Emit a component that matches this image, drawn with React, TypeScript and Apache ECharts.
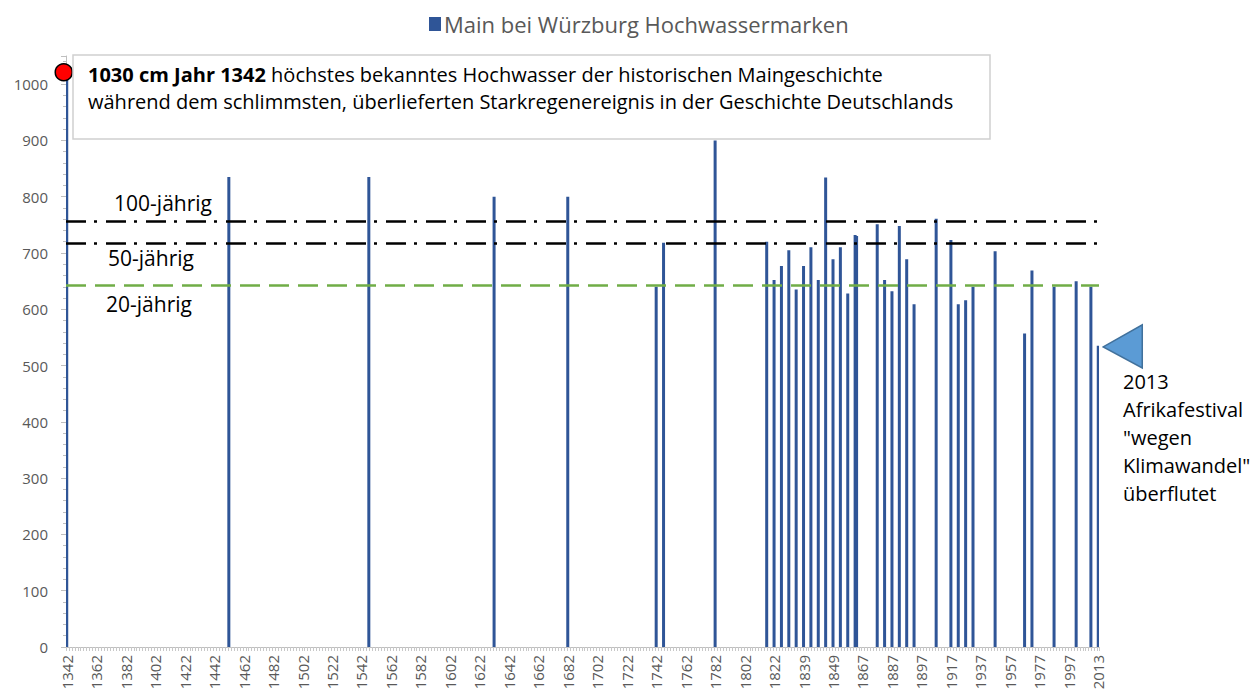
import React, { useEffect, useRef } from 'react';
import * as echarts from 'echarts';

const tickLabels = ['1342','1362','1382','1402','1422','1442','1462','1482','1502','1522','1542','1562','1582','1602','1622','1642','1662','1682','1702','1722','1742','1762','1782','1802','1822','1839','1849','1867','1887','1897','1917','1937','1957','1977','1997','2013'];
const slotsPerLabel = 20;

// position of each flood mark on the category axis (slot index) and its level in cm
const floodSlot = [0,110,205,290,340,400,405,440,475,480,485,490,495,500,505,510,515,520,525,530,535,536,550,555,560,565,570,575,590,600,605,610,615,630,650,655,670,685,695,700];
const floodLevel = [1030,835,835,800,800,640,718,900,720,652,677,705,635,677,710,652,834,689,710,628,732,730,751,652,632,748,689,609,761,723,609,616,640,703,557,669,640,650,640,535];

const returnLabels = ['100-jährig', '50-jährig', '20-jährig'];
const returnLevels = [757, 718, 643];

const seriesName = 'Main bei Würzburg Hochwassermarken';
const noteBold = '1030 cm Jahr 1342';
const noteRest = ' höchstes bekanntes Hochwasser der historischen Maingeschichte';
const noteLine2 = 'während dem schlimmsten, überlieferten Starkregenereignis in der Geschichte Deutschlands';
const sideNote = ['2013', 'Afrikafestival', '"wegen', 'Klimawandel"', 'überflutet'];

const FONT = 'Open Sans';
const BAR = '#2f5597';

export default function App() {
  const ref = useRef<HTMLDivElement>(null);
  useEffect(() => {
    document.body.style.margin = '0';
    const chart = echarts.init(ref.current!, null, { renderer: 'svg' });
    const nSlots = (tickLabels.length - 1) * slotsPerLabel + 1;
    const categories = Array.from({ length: nSlots }, (_, i) =>
      i % slotsPerLabel === 0 ? tickLabels[i / slotsPerLabel] : (i < 480 ? String(1342 + i) : '')
    );
    chart.setOption({
      animation: false,
      legend: {
        top: 8, left: 424, icon: 'rect', itemWidth: 12, itemHeight: 14, itemGap: 5,
        textStyle: { fontSize: 22, color: '#595959', fontFamily: FONT, padding: [0, 0, 0, -2] },
        data: [seriesName],
      },
      grid: { left: 66, right: 160, top: 56, bottom: 50 },
      xAxis: {
        type: 'category', data: categories, boundaryGap: true,
        axisLine: { lineStyle: { color: '#bfbfbf', width: 1 } },
        axisTick: { show: true, interval: 1, length: 4, lineStyle: { color: '#c8c8c8' } },
        axisLabel: { interval: slotsPerLabel - 1, rotate: 90, fontSize: 15, color: '#595959', fontFamily: FONT, margin: 8 },
      },
      yAxis: {
        type: 'value', min: 0, max: 1050, interval: 100,
        axisLine: { show: true, lineStyle: { color: '#bfbfbf' } },
        axisTick: { show: true, length: 5, lineStyle: { color: '#bfbfbf' } },
        minorTick: { show: true, splitNumber: 5, length: 3, lineStyle: { color: '#bfbfbf' } },
        splitLine: { show: false },
        axisLabel: {
          showMaxLabel: false, fontSize: 15, color: '#595959', fontFamily: FONT, margin: 18,
          formatter: (v: number) => String(v),
        },
      },
      series: [{
        type: 'bar', name: seriesName, barWidth: 3,
        itemStyle: { color: BAR },
        data: floodSlot.map((s, i) => [s, floodLevel[i]]),
        markLine: {
          symbol: 'none', silent: true, label: { show: false },
          data: returnLevels.map((v, i) => ({
            yAxis: v,
            lineStyle: i < 2
              ? { color: '#000', width: 2.5, type: [20, 8, 3, 9] }
              : { color: '#70ad47', width: 2.5, type: [20, 9] },
          })),
        },
        markPoint: {
          silent: true,
          data: [{
            coord: [floodSlot[0], floodLevel[0]], symbol: 'circle', symbolSize: 17, symbolOffset: [-3, 5],
            itemStyle: { color: '#ff0000', borderColor: '#000', borderWidth: 1.5 }, label: { show: false },
          }],
        },
      }],
    });

    const yPix = (v: number) => chart.convertToPixel({ yAxisIndex: 0 }, v) as number;
    const lastIdx = floodSlot.length - 1;
    const lastPt = chart.convertToPixel({ xAxisIndex: 0, yAxisIndex: 0 }, [floodSlot[lastIdx], floodLevel[lastIdx]]) as number[];
    const labelOffsets = [-18, 15, 19];
    const labelX = [163, 151, 149];
    const graphic: any[] = [
      { type: 'rect', z: 10, shape: { x: 73, y: 55, width: 917, height: 84 }, style: { fill: '#fff', stroke: '#d0d0d0', lineWidth: 1.5 } },
      {
        type: 'text', z: 11, x: 88, y: 61,
        style: {
          text: `{b|${noteBold}}${noteRest}\n${noteLine2}`,
          fontSize: 20, fontFamily: FONT, fill: '#000', lineHeight: 27,
          rich: { b: { fontWeight: 'bold', fontSize: 20, fontFamily: FONT, fill: '#000', lineHeight: 27 } },
        },
      },
      ...returnLabels.map((t, i) => ({
        type: 'text', z: 11, x: labelX[i], y: yPix(returnLevels[i]) + labelOffsets[i],
        style: { text: t, fontSize: 21, fontFamily: FONT, fill: '#000', align: 'center', verticalAlign: 'middle' },
      })),
      {
        type: 'polygon', z: 11,
        shape: { points: [[lastPt[0] + 5, lastPt[1] + 1], [lastPt[0] + 44, lastPt[1] - 21], [lastPt[0] + 44, lastPt[1] + 22]] },
        style: { fill: '#5b9bd5', stroke: '#41719c', lineWidth: 1.5 },
      },
      ...sideNote.map((t, i) => ({
        type: 'text', z: 11, x: 1123, y: 381 + i * 28,
        style: { text: t, fontSize: 20, fontFamily: FONT, fill: '#000', align: 'left', verticalAlign: 'middle' },
      })),
    ];
    chart.setOption({ graphic });
    return () => chart.dispose();
  }, []);
  return <div ref={ref} style={{ position: 'absolute', left: 0, top: 0, width: 1259, height: 697 }} />;
}
